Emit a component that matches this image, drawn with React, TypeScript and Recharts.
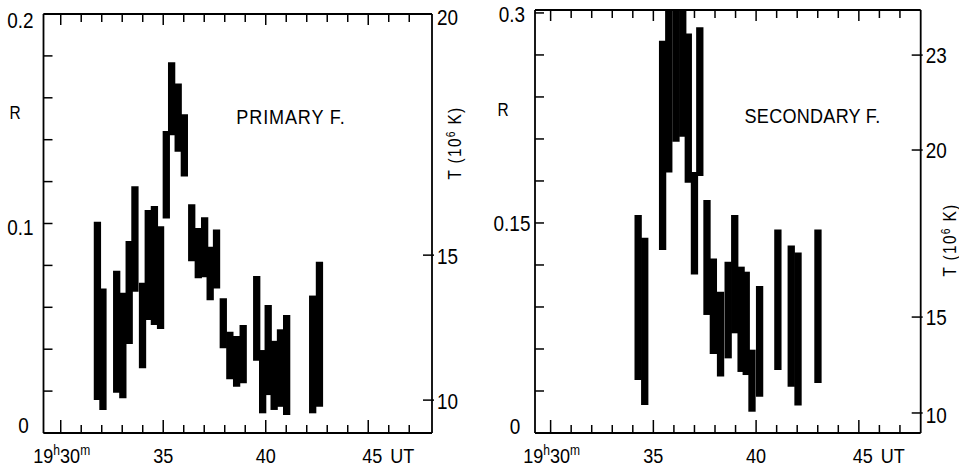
import React from 'react';
import { ComposedChart, XAxis, YAxis, ReferenceArea, Customized } from 'recharts';

const FONT = "'Liberation Sans', Arial, sans-serif";
const INK = '#000';

// ---- time axis (minutes after 19h) ----
const minuteTicks = [30, 31, 32, 33, 34, 35, 36, 37, 38, 39, 40, 41, 42, 43, 44, 45, 46, 47];
const majorMinutes = [30, 35, 40, 45];

// ---- PRIMARY F. : time (min), R low, R high ----
const primaryTime = [31.79, 32.06, 32.73, 33.03, 33.34, 33.62, 33.99, 34.27, 34.57, 34.87, 35.15, 35.41, 35.73, 36.03, 36.39, 36.71, 37.02, 37.29, 37.6, 37.93, 38.25, 38.58, 38.9, 39.56, 39.85, 40.12, 40.41, 40.72, 41.02, 42.29, 42.62];
const primaryLow = [0.0157, 0.011, 0.0192, 0.0166, 0.0425, 0.0674, 0.0309, 0.0539, 0.0515, 0.0496, 0.1024, 0.1421, 0.1342, 0.1224, 0.082, 0.0739, 0.0744, 0.0634, 0.069, 0.0404, 0.0256, 0.0221, 0.0237, 0.0345, 0.0094, 0.0181, 0.011, 0.0125, 0.0086, 0.0094, 0.0125];
const primaryHigh = [0.1008, 0.069, 0.0774, 0.0669, 0.0917, 0.1178, 0.0717, 0.1064, 0.1083, 0.0987, 0.1441, 0.177, 0.1668, 0.1522, 0.1092, 0.0978, 0.103, 0.0889, 0.0971, 0.0643, 0.0483, 0.0463, 0.0515, 0.0749, 0.0396, 0.0611, 0.044, 0.0495, 0.0563, 0.0656, 0.0817];
const primaryRTicks = [0, 0.02, 0.04, 0.06, 0.08, 0.1, 0.12, 0.14, 0.16, 0.18, 0.2];
const primaryRLabelValues = [0, 0.1, 0.2];
const primaryRLabels = ['0', '0.1', '0.2'];
const primaryTPositions = [0.0157, 0.0849, 0.2];
const primaryTLabels = ['10', '15', '20'];

// ---- SECONDARY F. ----
const secondaryTime = [34.26, 34.58, 35.45, 35.75, 36.1, 36.43, 36.7, 37.0, 37.26, 37.61, 37.92, 38.27, 38.64, 38.96, 39.27, 39.52, 39.8, 40.17, 41.06, 41.71, 42.04, 43.01];
const secondaryLow = [0.0378, 0.02, 0.1307, 0.1861, 0.208, 0.2116, 0.1787, 0.1132, 0.1835, 0.0843, 0.0564, 0.0403, 0.0533, 0.0712, 0.0436, 0.0414, 0.0152, 0.0259, 0.045, 0.0331, 0.0196, 0.0357];
const secondaryHigh = [0.1557, 0.1395, 0.2801, 0.31, 0.31, 0.31, 0.2854, 0.1864, 0.2897, 0.1664, 0.1247, 0.1009, 0.1223, 0.1557, 0.1188, 0.1152, 0.0595, 0.105, 0.1453, 0.1339, 0.1289, 0.1453];
const secondaryRTicks = [0, 0.03, 0.06, 0.09, 0.12, 0.15, 0.18, 0.21, 0.24, 0.27, 0.3];
const secondaryRLabelValues = [0, 0.15, 0.3];
const secondaryRLabels = ['0', '0.15', '0.3'];
const secondaryTPositions = [0.0143, 0.0828, 0.2021, 0.2699];
const secondaryTLabels = ['10', '15', '20', '23'];

// ---- styling constants ----
const BAR_HALF = 0.178; // half bar width, minutes
const LABEL_FS = 22;
const SX = 0.86; // horizontal squeeze of the narrow typeface

const near = (a: number, b: number) => Math.abs(a - b) < 1e-6;

type NTextProps = {
  x: number;
  y: number;
  size: number;
  anchor?: 'start' | 'middle' | 'end';
  rotate?: number;
  spacing?: number;
  children: React.ReactNode;
};

function NText({ x, y, size, anchor = 'middle', rotate = 0, spacing = 0, children }: NTextProps) {
  const tr = `translate(${x},${y})${rotate ? ` rotate(${rotate})` : ''} scale(${SX},1)`;
  return (
    <text transform={tr} x={0} y={0} textAnchor={anchor} fontSize={size} fill={INK} fontFamily={FONT} letterSpacing={spacing}>
      {children}
    </text>
  );
}

function BottomTick(p: any) {
  const { x, y, payload } = p;
  const v = payload.value;
  const major = majorMinutes.some((m) => near(m, v));
  const base = y + 30;
  let label: React.ReactNode = null;
  if (near(v, 30)) {
    label = (
      <NText x={x + 1} y={base} size={21}>
        19<tspan fontSize={14} dy={-8}>h</tspan>
        <tspan dy={8}>30</tspan>
        <tspan fontSize={14} dy={-8}>m</tspan>
      </NText>
    );
  } else if (near(v, 35) || near(v, 40)) {
    label = (
      <NText x={x} y={base} size={21}>
        {String(v)}
      </NText>
    );
  } else if (near(v, 45)) {
    label = (
      <g>
        <NText x={x + 4} y={base} size={21}>45</NText>
        <NText x={x + 34} y={base} size={21}>UT</NText>
      </g>
    );
  }
  return (
    <g>
      <line x1={x} x2={x} y1={y} y2={y - (major ? 13 : 8)} stroke={INK} strokeWidth={1.5} />
      {label}
    </g>
  );
}

function TopTick(p: any) {
  const { x, y, payload } = p;
  const major = majorMinutes.some((m) => near(m, payload.value));
  return <line x1={x} x2={x} y1={y} y2={y + (major ? 11 : 8)} stroke={INK} strokeWidth={1.5} />;
}

function makeLeftTick(values: number[], labels: string[], dys: number[], dxs: number[]) {
  return (p: any) => {
    const { x, y, payload } = p;
    const i = values.findIndex((v) => near(v, payload.value));
    return (
      <g>
        <line x1={x} x2={x + 9} y1={y} y2={y} stroke={INK} strokeWidth={1.5} />
        {i >= 0 && (
          <NText x={x - 23 + dxs[i]} y={y + dys[i] + 8} size={LABEL_FS}>
            {labels[i]}
          </NText>
        )}
      </g>
    );
  };
}

function makeRightTick(values: number[], labels: string[], dys: number[], drawLine: boolean[]) {
  return (p: any) => {
    const { x, y, payload } = p;
    const i = values.findIndex((v) => near(v, payload.value));
    return (
      <g>
        {i >= 0 && drawLine[i] && <line x1={x - 9} x2={x + 2} y1={y} y2={y} stroke={INK} strokeWidth={1.5} />}
        {i >= 0 && (
          <NText x={x + 5} y={y + dys[i] + 8} size={LABEL_FS} anchor="start">
            {labels[i]}
          </NText>
        )}
      </g>
    );
  };
}

type PanelProps = {
  width: number;
  margin: { top: number; right: number; bottom: number; left: number };
  rightWidth: number;
  xDomain: [number, number];
  yDomain: [number, number];
  time: number[];
  low: number[];
  high: number[];
  rTicks: number[];
  leftTick: (p: any) => React.ReactElement;
  tPositions: number[];
  rightTick: (p: any) => React.ReactElement;
  annotations: () => React.ReactElement;
};

function Panel(props: PanelProps) {
  const rows = props.time.map((t, i) => ({ t, low: props.low[i], high: props.high[i] }));
  const axisLine = { stroke: INK, strokeWidth: 1.8 };
  return (
    <ComposedChart width={props.width} height={468} margin={props.margin} data={rows}>
      <XAxis
        xAxisId="b"
        type="number"
        dataKey="t"
        orientation="bottom"
        domain={props.xDomain}
        allowDataOverflow
        ticks={minuteTicks}
        interval={0}
        tickLine={false}
        tickSize={0}
        tickMargin={0}
        axisLine={axisLine}
        tick={BottomTick}
        height={30}
      />
      <XAxis
        xAxisId="t"
        type="number"
        dataKey="t"
        orientation="top"
        domain={props.xDomain}
        allowDataOverflow
        ticks={minuteTicks}
        interval={0}
        tickLine={false}
        tickSize={0}
        tickMargin={0}
        axisLine={axisLine}
        tick={TopTick}
        height={4}
      />
      <YAxis
        yAxisId="l"
        type="number"
        orientation="left"
        domain={props.yDomain}
        allowDataOverflow
        ticks={props.rTicks}
        interval={0}
        tickLine={false}
        tickSize={0}
        tickMargin={0}
        axisLine={axisLine}
        tick={props.leftTick}
        width={40}
      />
      <YAxis
        yAxisId="r"
        type="number"
        orientation="right"
        domain={props.yDomain}
        allowDataOverflow
        ticks={props.tPositions}
        interval={0}
        tickLine={false}
        tickSize={0}
        tickMargin={0}
        axisLine={axisLine}
        tick={props.rightTick}
        width={props.rightWidth}
      />
      {rows.map((r, i) => (
        <ReferenceArea
          key={i}
          xAxisId="b"
          yAxisId="l"
          x1={r.t - BAR_HALF}
          x2={r.t + BAR_HALF}
          y1={r.low}
          y2={r.high}
          fill={INK}
          fillOpacity={1}
          stroke="none"
          ifOverflow="hidden"
        />
      ))}
      <Customized component={props.annotations} />
    </ComposedChart>
  );
}

const PrimaryAnnotations = () => (
  <g>
    <NText x={15} y={118.5} size={18}>R</NText>
    <NText x={291} y={123.5} size={21} spacing={1}>PRIMARY F.</NText>
    <NText x={461} y={143} size={18} rotate={-90} spacing={1.5}>
      T (10<tspan fontSize={12} dy={-6}>6</tspan>
      <tspan dy={6}> K)</tspan>
    </NText>
  </g>
);

const SecondaryAnnotations = () => (
  <g>
    <NText x={23} y={116} size={18}>R</NText>
    <NText x={332.5} y={123} size={21} spacing={0.3}>SECONDARY F.</NText>
    <NText x={476} y={240} size={18} rotate={-90} spacing={1.5}>
      T (10<tspan fontSize={12} dy={-6}>6</tspan>
      <tspan dy={6}> K)</tspan>
    </NText>
  </g>
);

const primaryLeftTick = makeLeftTick(primaryRLabelValues, primaryRLabels, [-8, 3, 6], [3, 0, 0]);
const primaryRightTick = makeRightTick(primaryTPositions, primaryTLabels, [1, 1, 3], [true, true, false]);
const secondaryLeftTick = makeLeftTick(secondaryRLabelValues, secondaryRLabels, [-7, 0, 1], [3, 0, 0]);
const secondaryRightTick = makeRightTick(secondaryTPositions, secondaryTLabels, [2, 0, 0, 0], [true, true, true, true]);

export default function App() {
  return (
    <div style={{ position: 'absolute', left: 0, top: 0, width: 959, height: 468, background: '#fff', overflow: 'hidden' }}>
      <div style={{ position: 'absolute', left: 0, top: 0 }}>
        <Panel
          width={480}
          margin={{ top: 10, right: 18, bottom: 5, left: 3.5 }}
          rightWidth={30}
          xDomain={[29.16, 48.11]}
          yDomain={[0, 0.2]}
          time={primaryTime}
          low={primaryLow}
          high={primaryHigh}
          rTicks={primaryRTicks}
          leftTick={primaryLeftTick}
          tPositions={primaryTPositions}
          rightTick={primaryRightTick}
          annotations={PrimaryAnnotations}
        />
      </div>
      <div style={{ position: 'absolute', left: 480, top: 0 }}>
        <Panel
          width={479}
          margin={{ top: 6, right: 8.3, bottom: 5, left: 15 }}
          rightWidth={30}
          xDomain={[29.24, 48.01]}
          yDomain={[0, 0.3021]}
          time={secondaryTime}
          low={secondaryLow}
          high={secondaryHigh}
          rTicks={secondaryRTicks}
          leftTick={secondaryLeftTick}
          tPositions={secondaryTPositions}
          rightTick={secondaryRightTick}
          annotations={SecondaryAnnotations}
        />
      </div>
    </div>
  );
}
